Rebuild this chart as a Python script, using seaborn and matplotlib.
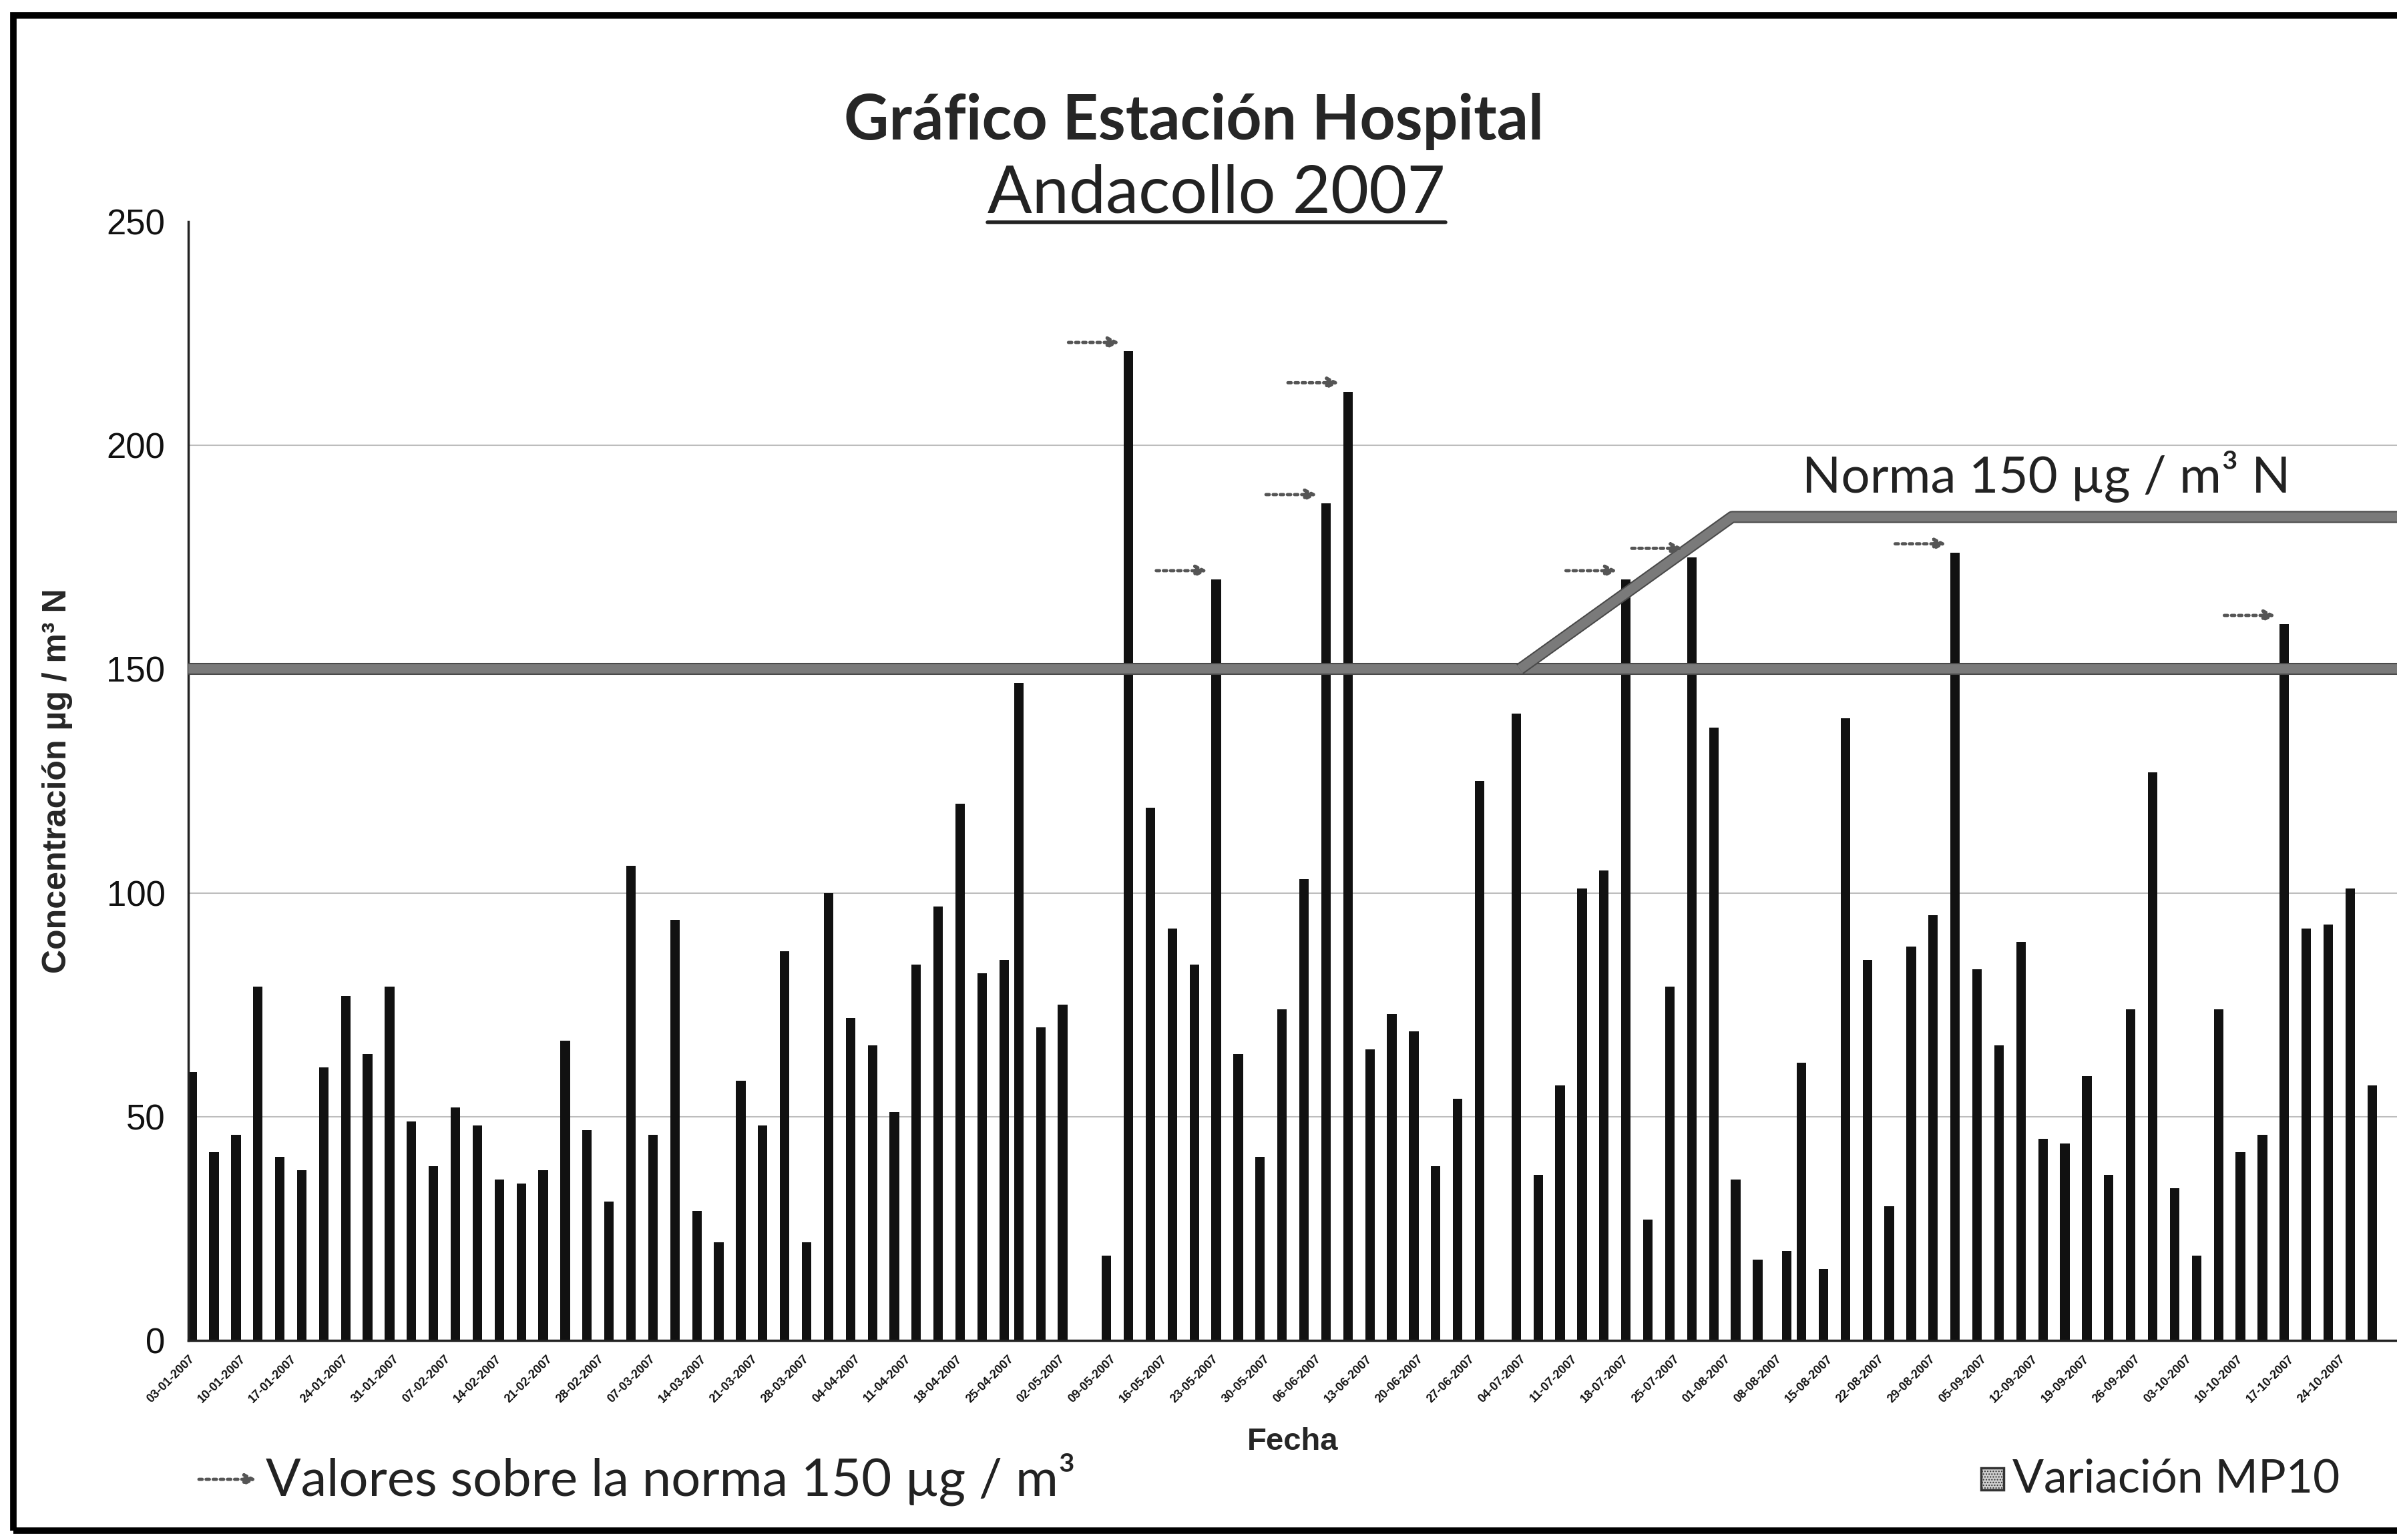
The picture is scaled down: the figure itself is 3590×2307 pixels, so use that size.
# Gráfico Estación Hospital - Andacollo 2007 (MP10)
import numpy as np
import pandas as pd
import matplotlib
matplotlib.use('Agg')
import matplotlib.pyplot as plt
import matplotlib.dates as mdates
import matplotlib.patheffects as pe
from matplotlib.patches import Rectangle
from matplotlib.lines import Line2D
import seaborn as sns

# Fechas de muestreo y concentraciones (µg/m³N)
fechas = ['03-01', '06-01', '09-01', '12-01', '15-01', '18-01', '21-01', '24-01', '27-01', '30-01',
          '02-02', '05-02', '08-02', '11-02', '14-02', '17-02', '20-02', '23-02', '26-02', '01-03',
          '04-03', '07-03', '10-03', '13-03', '16-03', '19-03', '22-03', '25-03', '28-03', '31-03',
          '03-04', '06-04', '09-04', '12-04', '15-04', '18-04', '21-04', '24-04', '26-04', '29-04',
          '02-05', '08-05', '11-05', '14-05', '17-05', '20-05', '23-05', '26-05', '29-05', '01-06',
          '04-06', '07-06', '10-06', '13-06', '16-06', '19-06', '22-06', '25-06', '28-06', '03-07',
          '06-07', '09-07', '12-07', '15-07', '18-07', '21-07', '24-07', '27-07', '30-07', '02-08',
          '05-08', '09-08', '11-08', '14-08', '17-08', '20-08', '23-08', '26-08', '29-08', '01-09',
          '04-09', '07-09', '10-09', '13-09', '16-09', '19-09', '22-09', '25-09', '28-09', '01-10',
          '04-10', '07-10', '10-10', '13-10', '16-10', '19-10', '22-10', '25-10', '28-10']
valores = [60, 42, 46, 79, 41, 38, 61, 77, 64, 79,
           49, 39, 52, 48, 36, 35, 38, 67, 47, 31,
           106, 46, 94, 29, 22, 58, 48, 87, 22, 100,
           72, 66, 51, 84, 97, 120, 82, 85, 147, 70,
           75, 19, 221, 119, 92, 84, 170, 64, 41, 74,
           103, 187, 212, 65, 73, 69, 39, 54, 125, 140,
           37, 57, 101, 105, 170, 27, 79, 175, 137, 36,
           18, 20, 62, 16, 139, 85, 30, 88, 95, 176,
           83, 66, 89, 45, 44, 59, 37, 74, 127, 34,
           19, 74, 42, 46, 160, 92, 93, 101, 57]

# Norma y su variación
norma = 150
variacion_fechas = ['04-07', '02-08', '31-12']
variacion_valores = [150, 184, 184]

anio = 2007
tick_inicio = '03-01'
tick_fin = '24-10'

df = pd.DataFrame({'fecha': pd.to_datetime([f'{f}-{anio}' for f in fechas], format='%d-%m-%Y'),
                   'valor': valores})
# Eje de fechas estilo Excel: barra centrada entre marcas
df['x'] = mdates.date2num(df['fecha']) + 0.5

sns.set_theme(style='white')
plt.rcParams['font.family'] = ['Liberation Sans', 'DejaVu Sans']
gothic = ['Lato', 'DejaVu Sans']

fig = plt.figure(figsize=(35.9, 23.07), dpi=100)
ax = fig.add_axes([0.0786, 0.1296, 0.9214, 0.7265])

sns.barplot(data=df, x='x', y='valor', native_scale=True, color='#111111',
            saturation=1, width=0.65, linewidth=0, ax=ax)

x0 = mdates.date2num(pd.Timestamp(f'{anio}-01-03'))
ax.set_xlim(x0, x0 + 301.9)
ax.set_ylim(0, 250)

# Ticks semanales
ticks = pd.date_range(pd.to_datetime(f'{tick_inicio}-{anio}', format='%d-%m-%Y'),
                      pd.to_datetime(f'{tick_fin}-{anio}', format='%d-%m-%Y'), freq='7D')
ax.set_xticks(mdates.date2num(ticks))
ax.set_xticklabels(ticks.strftime('%d-%m-%Y'), rotation=45, ha='right',
                   rotation_mode='anchor', fontsize=13, fontweight='bold')
ax.set_yticks(np.arange(0, 251, 50))
ax.tick_params(axis='y', labelsize=38, length=11, width=2, direction='out', pad=14, colors='#111111')
ax.tick_params(axis='x', length=6, width=2, direction='out', pad=8, colors='#111111')
ax.yaxis.grid(True, color='#bdbdbd', lw=1.5)
ax.get_ygridlines()[-1].set_visible(False)
ax.set_axisbelow(True)
for s in ['top', 'right']:
    ax.spines[s].set_visible(False)
for s in ['left', 'bottom']:
    ax.spines[s].set_color('#222222')
    ax.spines[s].set_linewidth(2.5)

ax.set_xlabel('Fecha', fontsize=34, fontweight='bold', labelpad=24)
ax.set_ylabel('Concentración µg / m³ N', fontsize=36, fontweight='bold', labelpad=36)

# Bandas de la norma
banda = dict(color='#7a7a7a', lw=10, solid_capstyle='butt', zorder=4,
             path_effects=[pe.Stroke(linewidth=13, foreground='#4a4a4a'), pe.Normal()])
ax.axhline(norma, **banda)
vx = mdates.date2num(pd.to_datetime([f'{f}-{anio}' for f in variacion_fechas], format='%d-%m-%Y'))
ax.plot(vx, variacion_valores, **banda)
ax.text(x0 + 254, 193, 'Norma 150 µg / m³ N', fontsize=55, family=gothic,
        ha='center', va='center', color='#222222')

# Flechas sobre valores que exceden la norma
flecha = dict(arrowstyle='-|>,head_length=0.8,head_width=0.4', color='#555555', lw=3.5,
              linestyle=(0, (1, 1.2)), shrinkA=0, shrinkB=0)
for xi, vi in zip(df['x'], df['valor']):
    if vi > norma:
        ax.annotate('', xy=(xi - 1.2, vi + 2), xytext=(xi - 8.2, vi + 2), arrowprops=flecha, zorder=5)

# Título
fig.text(0.498, 0.921, 'Gráfico Estación Hospital', fontsize=67, fontweight='bold',
         family=gothic, ha='center', va='center')
sub = fig.text(0.5075, 0.874, 'Andacollo 2007', fontsize=71, family=gothic,
               ha='center', va='center', color='#222222')
fig.canvas.draw()
bb = sub.get_window_extent().transformed(fig.transFigure.inverted())
fig.add_artist(Line2D([bb.x0, bb.x1], [bb.y0 + 0.001, bb.y0 + 0.001], transform=fig.transFigure,
                      color='#222222', lw=4))

# Leyenda inferior
ax.annotate('', xy=(0.107, 0.0394), xytext=(0.083, 0.0394), xycoords='figure fraction',
            textcoords='figure fraction', arrowprops=flecha)
fig.text(0.111, 0.0394, 'Valores sobre la norma 150 µg / m³', fontsize=56, family=gothic,
         ha='left', va='center', color='#222222')
fig.add_artist(Rectangle((0.8265, 0.0325), 0.0095, 0.0145, transform=fig.transFigure,
                         facecolor='#cfcfcf', edgecolor='#333333', hatch='....', lw=2.5))
fig.text(0.8395, 0.0394, 'Variación MP10', fontsize=50, family=gothic,
         ha='left', va='center', color='#222222')

# Marco exterior
fig.add_artist(Rectangle((0.0056, 0.0061), 1.2, 0.9841, transform=fig.transFigure,
                         fill=False, edgecolor='black', lw=7))

fig.savefig('out.png', dpi=100)
plt.close()
